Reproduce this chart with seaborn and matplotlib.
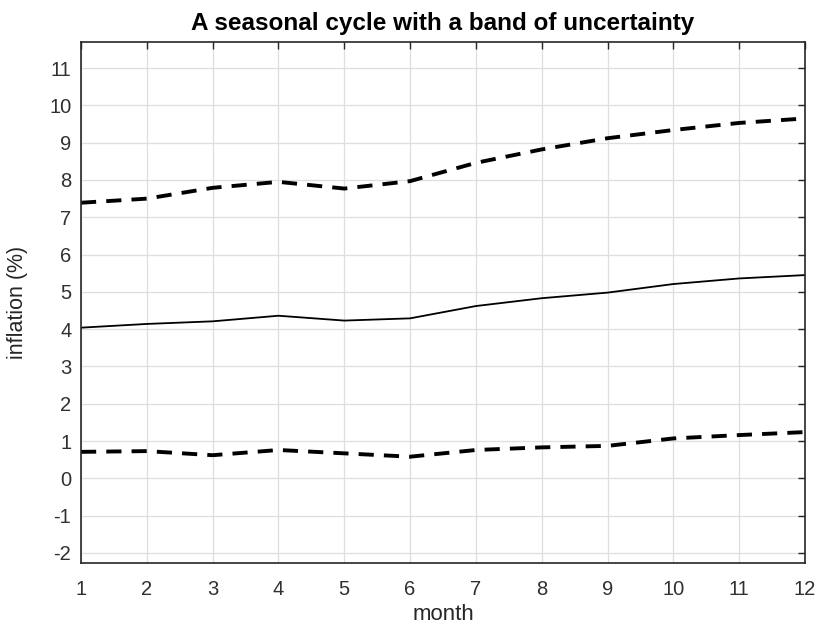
import matplotlib
matplotlib.use("Agg")
import matplotlib.pyplot as plt
import seaborn as sns
import pandas as pd

months = [1, 2, 3, 4, 5, 6, 7, 8, 9, 10, 11, 12]
central = [4.04, 4.14, 4.21, 4.36, 4.23, 4.29, 4.62, 4.83, 4.98, 5.21, 5.36, 5.45]
upper = [7.39, 7.50, 7.79, 7.95, 7.77, 7.97, 8.46, 8.82, 9.12, 9.34, 9.53, 9.65]
lower = [0.71, 0.73, 0.62, 0.76, 0.67, 0.58, 0.76, 0.83, 0.87, 1.07, 1.16, 1.24]
yticks = list(range(-2, 12))

sns.set_style("white")
plt.rcParams['font.family'] = ['Liberation Sans', 'DejaVu Sans']
plt.rcParams['axes.unicode_minus'] = False

fig = plt.figure(figsize=(8.2, 6.27), dpi=100)
ax = fig.add_axes([0.0988, 0.1021, 0.8829, 0.8309])

df = pd.DataFrame({"month": months, "central": central, "upper": upper, "lower": lower})
sns.lineplot(data=df, x="month", y="upper", ax=ax, color="black", lw=2.8)
sns.lineplot(data=df, x="month", y="lower", ax=ax, color="black", lw=2.8)
sns.lineplot(data=df, x="month", y="central", ax=ax, color="black", lw=1.3)
for ln in ax.lines[:2]:
    ln.set_linestyle((0, (3.9, 2.6)))

ax.set_xlim(1, 12)
ax.set_ylim(-2.27, 11.7)
ax.set_xticks(months)
ax.set_yticks(yticks)
ax.grid(True, color="#dedede", lw=0.9)
ax.set_axisbelow(True)
ax.tick_params(direction="in", top=True, right=True, length=5, width=1,
               labelsize=14.5, colors="#262626")
ax.tick_params(axis="x", pad=12)
ax.tick_params(axis="y", pad=7)
for lab in ax.get_xticklabels() + ax.get_yticklabels():
    lab.set_color("#303030")
for s in ax.spines.values():
    s.set_color("#262626")
    s.set_linewidth(1.2)
ax.set_xlabel("month", fontsize=16, color="#262626", labelpad=4)
ax.set_ylabel("inflation (%)", fontsize=15.5, color="#262626", labelpad=15)
ax.set_title("A seasonal cycle with a band of uncertainty", fontsize=17.5,
             fontweight="bold", color="black", pad=9)

fig.savefig("out.png", dpi=100)
